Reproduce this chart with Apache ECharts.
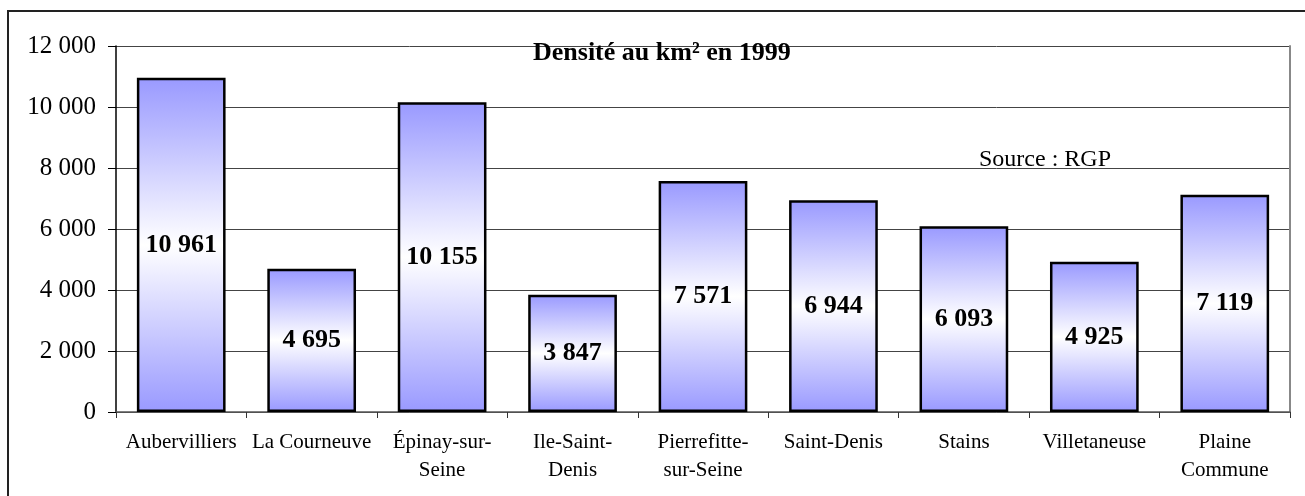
<!DOCTYPE html>
<html lang="fr">
<head>
    <meta charset="UTF-8">
    <title>Densité au km² en 1999</title>
    <script type="text/javascript" src="https://cdn.jsdelivr.net/npm/echarts@6/dist/echarts.min.js"></script>
    <style>
        html, body { margin: 0; padding: 0; background: #fff; }
        #bar { width: 1305px; height: 496px; }
    </style>
</head>
<body>
<div id="bar"></div>
<script>
    // données
    var communes = ['Aubervilliers', 'La Courneuve', 'Épinay-sur-\nSeine', 'Ile-Saint-\nDenis',
        'Pierrefitte-\nsur-Seine', 'Saint-Denis', 'Stains', 'Villetaneuse', 'Plaine\nCommune'];
    var densite = [10961, 4695, 10155, 3847, 7571, 6944, 6093, 4925, 7119];
    var yTicks = [0, 2000, 4000, 6000, 8000, 10000, 12000];

    var serif = 'Liberation Serif';

    // 10961 -> "10 961"
    function fmt(v) {
        return String(v).replace(/\B(?=(\d{3})+(?!\d))/g, ' ');
    }

    var option = {
        animation: false,
        title: {
            text: 'Densité au km² en 1999',
            left: 533,
            top: 40,
            padding: 0,
            textStyle: {
                fontFamily: serif,
                fontSize: 26,
                fontWeight: 'bold',
                color: '#000'
            }
        },
        grid: {
            left: 116,
            right: 15,
            top: 46,
            bottom: 84
        },
        graphic: [
            {
                type: 'rect',
                silent: true,
                shape: {x: 8, y: 11, width: 1400, height: 600},
                style: {fill: 'none', stroke: '#222', lineWidth: 2}
            },
            {
                type: 'text',
                x: 1045,
                y: 160,
                style: {
                    text: 'Source : RGP',
                    fontFamily: serif,
                    fontSize: 24,
                    fill: '#000',
                    align: 'center',
                    verticalAlign: 'middle'
                }
            }
        ],
        xAxis: {
            type: 'category',
            data: communes,
            axisLine: {lineStyle: {color: '#555', width: 1.5}},
            axisTick: {show: true, length: 6, lineStyle: {color: '#333'}},
            axisLabel: {
                interval: 0,
                margin: 16,
                fontFamily: serif,
                fontSize: 21,
                lineHeight: 28,
                color: '#000'
            }
        },
        yAxis: [
            {
                type: 'value',
                min: yTicks[0],
                max: yTicks[yTicks.length - 1],
                interval: yTicks[1] - yTicks[0],
                axisLine: {show: true, lineStyle: {color: '#000', width: 1.5}},
                axisTick: {show: true, length: 8, lineStyle: {color: '#000'}},
                splitLine: {lineStyle: {color: '#444', width: 1}},
                axisLabel: {
                    margin: 20,
                    fontFamily: serif,
                    fontSize: 25,
                    color: '#000',
                    formatter: fmt
                }
            },
            {
                type: 'value',
                position: 'right',
                min: yTicks[0],
                max: yTicks[yTicks.length - 1],
                interval: yTicks[1] - yTicks[0],
                axisLine: {show: true, lineStyle: {color: '#888', width: 2}},
                axisTick: {show: false},
                axisLabel: {show: false},
                splitLine: {show: false}
            }
        ],
        series: [
            {
                type: 'bar',
                data: densite,
                barCategoryGap: '32%',
                itemStyle: {
                    borderColor: '#000',
                    borderWidth: 2.5,
                    color: new echarts.graphic.LinearGradient(0, 0, 0, 1, [
                        {offset: 0, color: '#9999ff'},
                        {offset: 0.5, color: '#ffffff'},
                        {offset: 1, color: '#9999ff'}
                    ])
                },
                label: {
                    show: true,
                    position: 'inside',
                    fontFamily: serif,
                    fontSize: 26,
                    fontWeight: 'bold',
                    color: '#000',
                    formatter: function (p) {
                        return fmt(p.value);
                    }
                }
            }
        ]
    };

    var myChart = echarts.init(document.getElementById('bar'));
    myChart.setOption(option);
</script>
</body>
</html>
